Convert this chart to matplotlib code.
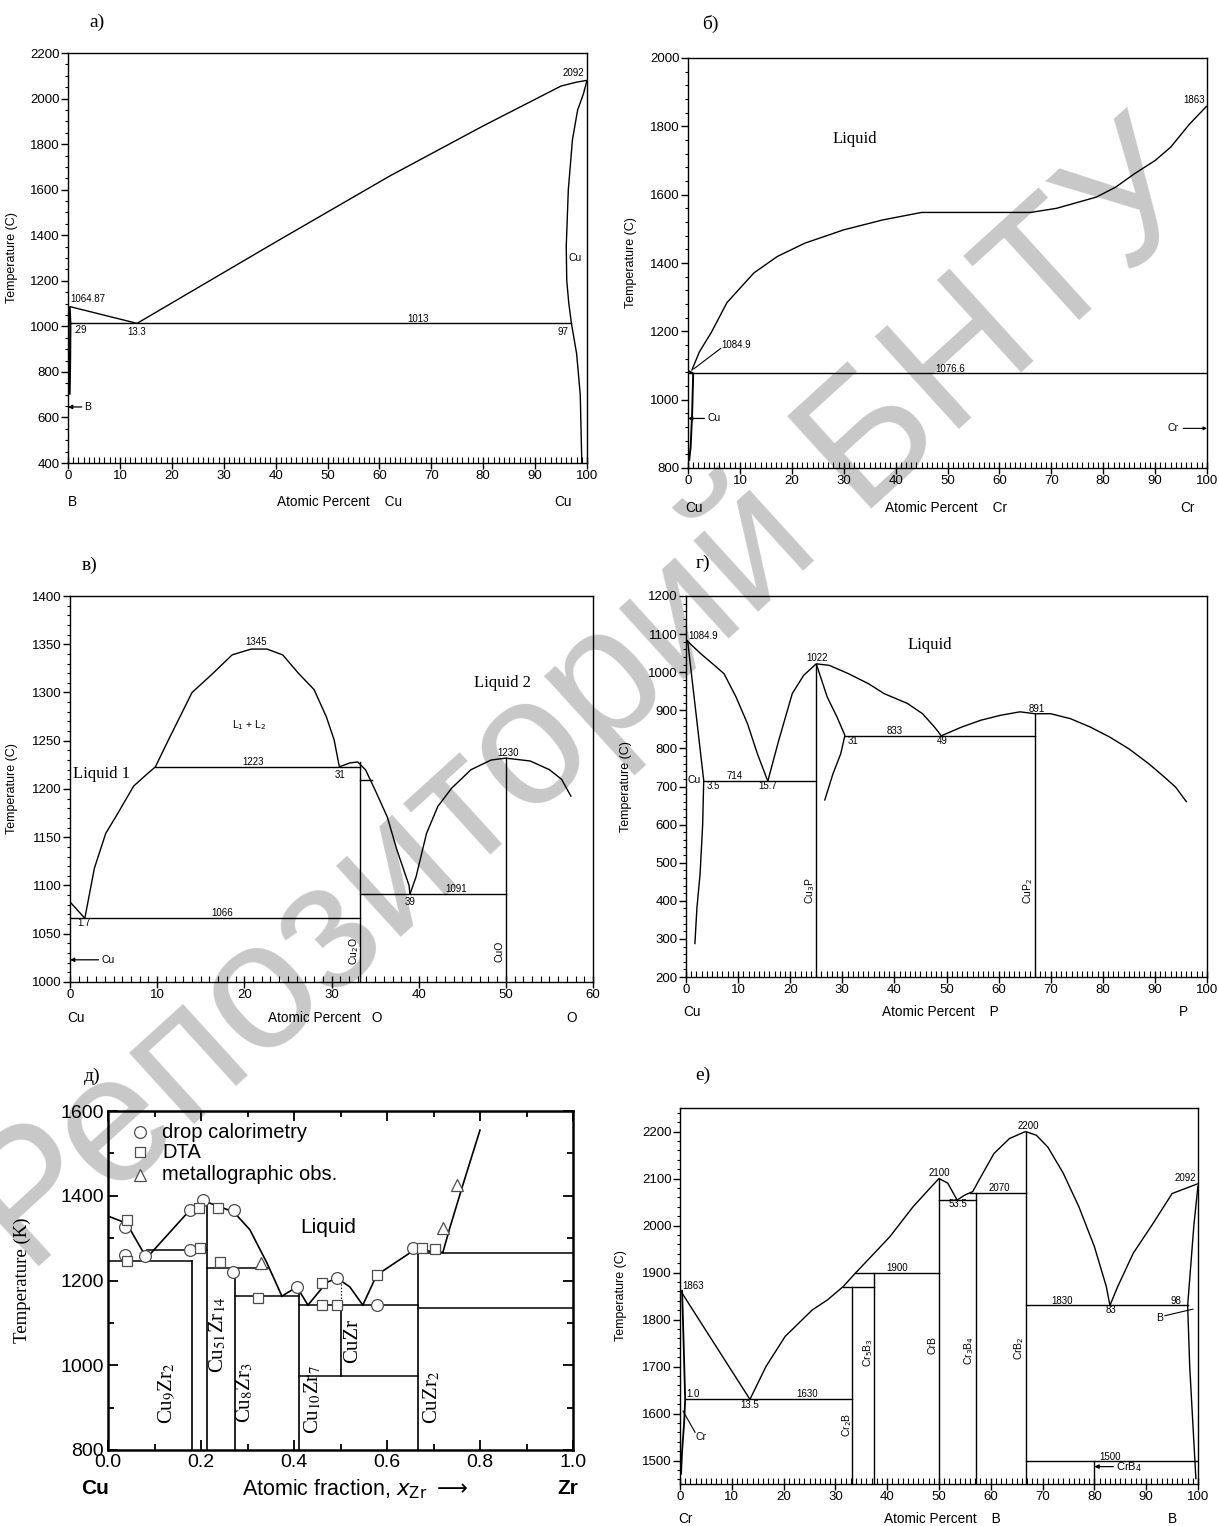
import matplotlib
matplotlib.use("Agg")
import matplotlib.pyplot as plt
from matplotlib.ticker import MultipleLocator

W, H = 1219, 1526
SANS = ["Liberation Sans", "DejaVu Sans"]
SERIF = ["Liberation Serif", "DejaVu Serif"]

# ---------------- а) B - Cu ----------------
A_LIQ_L_X = [0.3, 13.3]
A_LIQ_L_T = [1087, 1013]
A_LIQ_R_X = [13.3, 40, 62, 80, 95, 98, 100]
A_LIQ_R_T = [1013, 1370, 1660, 1880, 2055, 2072, 2080]
A_SOL_R_X = [100, 99.3, 98.2, 97.2, 96.4, 96.0, 96.1, 96.5, 97.0, 98.0, 98.7, 99.0]
A_SOL_R_T = [2080, 2020, 1950, 1820, 1600, 1350, 1200, 1100, 1013, 880, 700, 400]
A_SOL_L_X = [0.3, 0.45, 0.4, 0.3]
A_SOL_L_T = [1087, 1013, 850, 700]
A_EUT_X = [0.0, 97.0]
A_EUT_T = 1013

# ---------------- б) Cu - Cr ----------------
B_LIQ_X = [0.7, 2.2, 4.5, 7.5, 12.7, 17.2, 22.5, 30, 37.5, 45, 55, 66, 71, 78.7,
           82.4, 86, 90, 93, 96.6, 100]
B_LIQ_T = [1085, 1140, 1197, 1284, 1371, 1419, 1458, 1497, 1526, 1548, 1548, 1548,
           1560, 1593, 1622, 1661, 1700, 1739, 1806, 1860]
B_SOL_X = [0.0, 1.0, 0.8, 0.5, 0.2]
B_SOL_T = [1084.9, 1076.6, 960, 860, 820]
B_EUT_T = 1076.6

# ---------------- в) Cu - O ----------------
C_L1_X = [0.0, 1.7]
C_L1_T = [1083, 1066]
C_LIQ1_X = [1.7, 2.8, 4.1, 5.5, 7.3, 8.9, 9.8]
C_LIQ1_T = [1066, 1118, 1154, 1175, 1203, 1216, 1223]
C_DOME_X = [9.8, 11.3, 14.0, 16.3, 18.6, 20.8, 22.6, 24.4, 26.2, 28.0, 29.4, 30.3, 30.9]
C_DOME_T = [1223, 1251, 1300, 1319, 1339, 1345, 1345, 1339, 1320, 1303, 1275, 1251, 1223]
C_CU2O_X = [30.9, 32.1, 33.0, 33.9, 35.0, 36.4, 37.5, 38.9, 39.0]
C_CU2O_T = [1223, 1227, 1228, 1220, 1199, 1171, 1137, 1100, 1091]
C_CUO_X = [39.0, 39.7, 40.9, 42.2, 43.8, 46.0, 48.3, 50.0, 52.8, 55.0, 56.4, 57.5]
C_CUO_T = [1091, 1109, 1154, 1182, 1201, 1220, 1230, 1232, 1229, 1220, 1210, 1192]
C_MONO_T = 1223
C_EUT1_T = 1066
C_EUT2_T = 1091
C_CU2O_COMP = 33.3
C_CUO_COMP = 50.0

# ---------------- г) Cu - P ----------------
D_LIQ1_X = [0.0, 2.8, 5.8, 7.3, 9.6, 11.8, 13.7, 15.7]
D_LIQ1_T = [1084.9, 1049, 1014, 996, 935, 865, 786, 714]
D_SOLID_X = [0.3, 3.4, 3.2, 2.7, 2.1, 1.7]
D_SOLID_T = [1084, 716, 600, 470, 382, 286]
D_LIQ2_X = [15.7, 17.8, 20.4, 22.6, 25.0]
D_LIQ2_T = [714, 821, 944, 992, 1022]
D_CU3P_X = [25.0, 27.1, 29.0, 30.5, 29.7, 28.2, 26.6]
D_CU3P_T = [1022, 935, 882, 834, 786, 733, 663]
D_LIQ3_X = [25.0, 27.5, 31.2, 35.0, 38.0, 42.5, 45.4, 47.7, 49.0]
D_LIQ3_T = [1022, 1018, 996, 970, 944, 918, 891, 856, 833]
D_LIQ4_X = [49.0, 52.9, 56.6, 60.4, 64.1, 67.0, 70.0, 73.8, 77.6, 81.3, 85.0, 88.8,
            91.8, 94.0, 96.1]
D_LIQ4_T = [833, 856, 874, 887, 896, 891, 891, 878, 856, 830, 799, 760, 725, 698, 659]
D_EUT1_T = 714
D_EUT2_T = 833
D_CU3P_COMP = 25.0
D_CUP2_COMP = 67.0

# ---------------- д) Cu - Zr ----------------
E_LIQ_SEGS = [
    ([0.0, 0.04, 0.083], [1352, 1335, 1253]),
    ([0.083, 0.176, 0.205, 0.213], [1253, 1366, 1390, 1385]),
    ([0.213, 0.27, 0.305, 0.342, 0.374], [1385, 1362, 1320, 1241, 1163]),
    ([0.374, 0.406, 0.43], [1163, 1185, 1142]),
    ([0.43, 0.47, 0.492, 0.52, 0.548], [1142, 1195, 1206, 1185, 1142]),
    ([0.548, 0.578, 0.656, 0.667, 0.72], [1142, 1213, 1270, 1272, 1266]),
    ([0.72, 0.735, 0.763, 0.80], [1266, 1324, 1425, 1555]),
]
E_HLINES = [  # (x from, x to, T)
    (0.0, 0.18, 1245), (0.083, 0.213, 1272), (0.213, 0.345, 1230),
    (0.273, 0.41, 1163), (0.41, 0.667, 1143), (0.41, 0.667, 975),
    (0.667, 1.0, 1266), (0.667, 1.0, 1135),
]
E_VLINES = [  # (x, T from, T to)
    (0.18, 800, 1245), (0.213, 800, 1385), (0.273, 800, 1230),
    (0.41, 800, 1180), (0.5, 975, 1143), (0.667, 800, 1272),
]
E_CIRC_X = [0.037, 0.037, 0.08, 0.176, 0.205, 0.176, 0.27, 0.269, 0.406, 0.492, 0.578, 0.656]
E_CIRC_T = [1327, 1260, 1258, 1366, 1390, 1272, 1366, 1220, 1185, 1206, 1142, 1276]
E_SQR_X = [0.04, 0.04, 0.195, 0.198, 0.237, 0.241, 0.323, 0.46, 0.46, 0.492, 0.578, 0.675, 0.703]
E_SQR_T = [1343, 1245, 1371, 1277, 1371, 1244, 1159, 1142, 1195, 1142, 1213, 1276, 1275]
E_TRI_X = [0.33, 0.72, 0.75]
E_TRI_T = [1241, 1324, 1425]
E_PHASES = ["Cu$_9$Zr$_2$", "Cu$_{51}$Zr$_{14}$", "Cu$_8$Zr$_3$", "Cu$_{10}$Zr$_7$",
            "CuZr", "CuZr$_2$"]
E_PHASE_X = [0.127, 0.237, 0.295, 0.441, 0.525, 0.697]
E_PHASE_T = [935, 1071, 935, 920, 1058, 925]

# ---------------- е) Cr - B ----------------
F_LIQ1_X = [0.0, 13.5]
F_LIQ1_T = [1863, 1630]
F_LIQ2_X = [13.5, 16.6, 20.3, 25.5, 28.5, 31.5, 33.8, 37.5, 40.5, 45.0, 47.9, 50.0]
F_LIQ2_T = [1630, 1700, 1764, 1820, 1842, 1870, 1898, 1941, 1976, 2040, 2075, 2100]
F_LIQ3_X = [50.0, 51.7, 52.8, 53.5, 55.0, 56.5, 57.7, 60.6, 63.6, 66.7]
F_LIQ3_T = [2100, 2090, 2068, 2054, 2065, 2072, 2096, 2153, 2185, 2200]
F_LIQ4_X = [66.7, 68.8, 71.0, 74.0, 77.0, 80.0, 82.3, 83.0]
F_LIQ4_T = [2200, 2192, 2167, 2111, 2040, 1955, 1870, 1830]
F_LIQ5_X = [83.0, 84.5, 87.5, 91.3, 95.0, 100.0]
F_LIQ5_T = [1830, 1870, 1941, 2004, 2068, 2089]
F_BSOL_X = [100, 99.2, 98.5, 98.0, 98.4, 99.0, 99.6]
F_BSOL_T = [2085, 2000, 1900, 1830, 1700, 1580, 1460]
F_CRSOL_X = [0.4, 0.7, 1.0, 0.8, 0.4, 0.2]
F_CRSOL_T = [1863, 1750, 1630, 1580, 1520, 1470]
F_HLINES = [(1.0, 33.3, 1630), (31.5, 37.5, 1870), (33.8, 50.0, 1900),
            (50.0, 57.1, 2055), (56.0, 66.7, 2070), (66.7, 98.0, 1830),
            (66.7, 100.0, 1500)]
F_VLINES = [(33.3, 1450, 1870), (37.5, 1450, 1900), (50.0, 1450, 2100),
            (57.1, 1450, 2070), (66.7, 1450, 2200), (80.0, 1450, 1500)]

fig = plt.figure(figsize=(W / 100, H / 100), dpi=100)


def rect(x0, x1, y0, y1):
    return [x0 / W, 1 - y1 / H, (x1 - x0) / W, (y1 - y0) / H]


def asm_axes(r, xlim, ylim, xmaj, xmin, ymaj, ymin, ylabel_x):
    ax = fig.add_axes(r)
    ax.patch.set_alpha(0)
    ax.set_xlim(*xlim)
    ax.set_ylim(*ylim)
    ax.xaxis.set_major_locator(MultipleLocator(xmaj))
    ax.xaxis.set_minor_locator(MultipleLocator(xmin))
    ax.yaxis.set_major_locator(MultipleLocator(ymaj))
    ax.yaxis.set_minor_locator(MultipleLocator(ymin))
    for s in ax.spines.values():
        s.set_linewidth(1.0)
    ax.tick_params(axis="x", which="major", direction="inout", length=8, width=1.0,
                   labelsize=9.5, pad=1)
    ax.tick_params(axis="x", which="minor", direction="in", length=4, width=0.8)
    ax.tick_params(axis="y", which="major", direction="out", length=5, width=1.0,
                   labelsize=9.5, pad=1)
    ax.tick_params(axis="y", which="minor", direction="out", length=2.5, width=0.8)
    for lab_ in ax.get_xticklabels() + ax.get_yticklabels():
        lab_.set_family(SANS)
    ax.set_ylabel("Temperature (C)", fontsize=9, family=SANS)
    ax.yaxis.set_label_coords(ylabel_x, 0.5)
    return ax


def line(ax, x, y, lw=1.0, **kw):
    ax.plot(x, y, color="k", lw=lw, solid_capstyle="butt", **kw)


def hline(ax, x0, x1, t, lw=1.0):
    ax.plot([x0, x1], [t, t], color="k", lw=lw)


def vline(ax, x, t0, t1, lw=1.0):
    ax.plot([x, x], [t0, t1], color="k", lw=lw)


def lab(ax, x, y, s, size=7, ha="center", va="center", rot=0, fam=SANS):
    ax.text(x, y, s, fontsize=size, ha=ha, va=va, rotation=rot, family=fam,
            math_fontfamily="dejavusans")


def bottom(ax, x, s, dy, size=9.8, ha="center", **kw):
    ax.annotate(s, xy=(x, 0), xycoords=("data", "axes fraction"),
                xytext=(0, -dy), textcoords="offset pixels", ha=ha, va="center",
                fontsize=size, family=SANS, **kw)


def arrow_left(ax, x_tip, x_txt, y, s, size=7.5):
    ax.annotate(s, xy=(x_tip, y), xytext=(x_txt, y), ha="left", va="center",
                fontsize=size, family=SANS,
                arrowprops=dict(arrowstyle="-|>", lw=0.9, color="k",
                                mutation_scale=6, shrinkA=0, shrinkB=0))


# ---- а)
ax = asm_axes(rect(68, 587, 53, 463), (0, 100), (400, 2200), 10, 1, 200, 50, -0.096)
line(ax, A_LIQ_L_X, A_LIQ_L_T)
line(ax, A_LIQ_R_X, A_LIQ_R_T)
line(ax, A_SOL_R_X, A_SOL_R_T)
line(ax, A_SOL_L_X, A_SOL_L_T, lw=1.6)
hline(ax, A_EUT_X[0], A_EUT_X[1], A_EUT_T)
lab(ax, 0.4, 1118, "1064.87", ha="left")
lab(ax, 13.3, 975, "13.3")
lab(ax, 67.4, 1030, str(A_EUT_T))
lab(ax, 95.3, 975, "97")
lab(ax, 0.9, 982, ".29", ha="left")
lab(ax, 97.4, 2110, "2092")
lab(ax, 97.7, 1300, "Cu", size=7.5)
arrow_left(ax, 0, 3.2, 646, "B")
bottom(ax, 0.8, "B", 39)
bottom(ax, 52.4, "Atomic Percent    Cu", 39)
bottom(ax, 95.4, "Cu", 39)

# ---- б)
ax = asm_axes(rect(688, 1207, 58, 468), (0, 100), (800, 2000), 10, 1, 200, 40, -0.098)
line(ax, B_LIQ_X, B_LIQ_T)
line(ax, B_SOL_X, B_SOL_T, lw=1.4)
hline(ax, 0, 100, B_EUT_T)
ax.plot([1.1, 6.3], [1090, 1150], color="k", lw=0.8)
lab(ax, 6.4, 1160, "1084.9", ha="left")
lab(ax, 50.5, 1090, str(B_EUT_T))
lab(ax, 97.6, 1878, "1863")
lab(ax, 32.2, 1763, "Liquid", size=12, fam=SERIF)
arrow_left(ax, 0, 3.7, 945, "Cu")
ax.annotate("Cr", xy=(100, 916), xytext=(94.6, 916), ha="right", va="center",
            fontsize=7.5, family=SANS,
            arrowprops=dict(arrowstyle="-|>", lw=0.8, color="k", mutation_scale=5,
                            shrinkA=1, shrinkB=0))
bottom(ax, 1.2, "Cu", 40)
bottom(ax, 49.7, "Atomic Percent    Cr", 40)
bottom(ax, 96.3, "Cr", 40)

# ---- в)
ax = asm_axes(rect(70, 593, 596, 982), (0, 60), (1000, 1400), 10, 1, 50, 10, -0.099)
line(ax, C_L1_X, C_L1_T)
line(ax, C_LIQ1_X, C_LIQ1_T)
line(ax, C_DOME_X, C_DOME_T)
line(ax, C_CU2O_X, C_CU2O_T)
line(ax, C_CUO_X, C_CUO_T)
hline(ax, C_LIQ1_X[-1], C_CU2O_COMP, C_MONO_T)
hline(ax, 0, C_CU2O_COMP, C_EUT1_T)
hline(ax, C_CU2O_COMP, C_CUO_COMP, C_EUT2_T)
hline(ax, C_CU2O_COMP, 34.6, 1209)
vline(ax, C_CU2O_COMP, 1000, 1228)
vline(ax, C_CUO_COMP, 1000, 1232)
lab(ax, 21.3, 1352, "1345")
lab(ax, 20.5, 1266, "L$_1$ + L$_2$", size=7.5)
lab(ax, 21.0, 1228, str(C_MONO_T))
lab(ax, 31.0, 1214, "31")
lab(ax, 17.5, 1071, str(C_EUT1_T))
lab(ax, 1.6, 1061, "1.7")
lab(ax, 39.0, 1083, "39")
lab(ax, 44.3, 1096, str(C_EUT2_T))
lab(ax, 50.2, 1237, "1230")
lab(ax, 0.4, 1216, "Liquid 1", size=12, ha="left", fam=SERIF)
lab(ax, 49.6, 1310, "Liquid 2", size=12, fam=SERIF)
lab(ax, 32.6, 1032, "Cu$_2$O", size=7.5, rot=90)
lab(ax, 49.3, 1032, "CuO", size=7.5, rot=90)
arrow_left(ax, 0, 3.6, 1023, "Cu")
bottom(ax, 0.7, "Cu", 36)
bottom(ax, 29.3, "Atomic Percent   O", 36)
bottom(ax, 57.5, "O", 36)

# ---- г)
ax = asm_axes(rect(686, 1207, 596, 977), (0, 100), (200, 1200), 10, 1, 100, 20, -0.104)
line(ax, D_LIQ1_X, D_LIQ1_T)
line(ax, D_SOLID_X, D_SOLID_T)
line(ax, D_LIQ2_X, D_LIQ2_T)
line(ax, D_CU3P_X, D_CU3P_T)
line(ax, D_LIQ3_X, D_LIQ3_T)
line(ax, D_LIQ4_X, D_LIQ4_T)
hline(ax, 3.4, D_CU3P_COMP, D_EUT1_T)
hline(ax, 30.5, D_CUP2_COMP, D_EUT2_T)
vline(ax, D_CU3P_COMP, 200, 1022)
vline(ax, D_CUP2_COMP, 200, 891)
lab(ax, 0.5, 1095, "1084.9", ha="left")
lab(ax, 46.8, 1071, "Liquid", size=12, fam=SERIF)
lab(ax, 25.2, 1036, "1022")
lab(ax, 67.3, 903, "891")
lab(ax, 40.0, 846, str(D_EUT2_T))
lab(ax, 32.0, 820, "31")
lab(ax, 49.2, 820, "49")
lab(ax, 9.3, 728, str(D_EUT1_T))
lab(ax, 0.2, 718, "Cu", size=7.5, ha="left")
lab(ax, 5.2, 702, "3.5")
lab(ax, 15.6, 702, "15.7")
lab(ax, 23.8, 426, "Cu$_3$P", size=7.5, rot=90)
lab(ax, 65.6, 426, "CuP$_2$", size=7.5, rot=90)
bottom(ax, 1.2, "Cu", 35)
bottom(ax, 48.8, "Atomic Percent    P", 35)
bottom(ax, 95.4, "P", 35)

# ---- е)
ax = asm_axes(rect(680, 1198, 1108, 1484), (0, 100), (1450, 2250), 10, 1, 100, 20, -0.102)
line(ax, F_LIQ1_X, F_LIQ1_T)
line(ax, F_LIQ2_X, F_LIQ2_T)
line(ax, F_LIQ3_X, F_LIQ3_T)
line(ax, F_LIQ4_X, F_LIQ4_T)
line(ax, F_LIQ5_X, F_LIQ5_T)
line(ax, F_BSOL_X, F_BSOL_T)
line(ax, F_CRSOL_X, F_CRSOL_T, lw=1.3)
for x0, x1, t in F_HLINES:
    hline(ax, x0, x1, t)
for x, t0, t1 in F_VLINES:
    vline(ax, x, t0, t1)
ax.plot([0.6, 2.9], [1605, 1560], color="k", lw=0.8)
ax.plot([93.6, 99.0], [1808, 1822], color="k", lw=0.8)
lab(ax, 0.4, 1872, "1863", ha="left")
lab(ax, 1.3, 1641, "1.0", ha="left")
lab(ax, 13.5, 1619, "13.5")
lab(ax, 24.5, 1641, "1630")
lab(ax, 3.0, 1551, "Cr", size=7.5, ha="left")
lab(ax, 32.2, 1575, "Cr$_2$B", size=7.5, rot=90)
lab(ax, 36.4, 1730, "Cr$_5$B$_3$", size=7.5, rot=90)
lab(ax, 42.0, 1910, "1900")
lab(ax, 48.8, 1745, "CrB", size=7.5, rot=90)
lab(ax, 50.0, 2111, "2100")
lab(ax, 53.6, 2045, "53.5")
lab(ax, 55.9, 1735, "Cr$_3$B$_4$", size=7.5, rot=90)
lab(ax, 61.6, 2080, "2070")
lab(ax, 65.5, 1740, "CrB$_2$", size=7.5, rot=90)
lab(ax, 67.2, 2211, "2200")
lab(ax, 73.8, 1839, "1830")
lab(ax, 83.2, 1820, "83")
lab(ax, 95.8, 1840, "98")
lab(ax, 97.6, 2101, "2092")
lab(ax, 93.3, 1804, "B", size=7.5, ha="right")
lab(ax, 83.0, 1508, "1500")
arrow_left(ax, 80, 84.2, 1487, "CrB$_4$", size=8)
bottom(ax, 1.0, "Cr", 35)
bottom(ax, 50.6, "Atomic Percent    B", 35)
bottom(ax, 95.0, "B", 35)

# ---- д)
ax = fig.add_axes(rect(108, 573, 1111, 1450))
ax.patch.set_alpha(0)
ax.set_xlim(0, 1)
ax.set_ylim(800, 1600)
ax.xaxis.set_major_locator(MultipleLocator(0.2))
ax.xaxis.set_minor_locator(MultipleLocator(0.1))
ax.yaxis.set_major_locator(MultipleLocator(200))
ax.yaxis.set_minor_locator(MultipleLocator(100))
for s in ax.spines.values():
    s.set_linewidth(1.8)
ax.tick_params(which="both", direction="in", top=True, right=True, width=1.3)
ax.tick_params(which="major", length=7, labelsize=14, pad=3)
ax.tick_params(which="minor", length=4)
ax.set_xticks([0, 0.2, 0.4, 0.6, 0.8, 1.0])
ax.set_xticklabels(["0.0", "0.2", "0.4", "0.6", "0.8", "1.0"], family=SANS)
for t in ax.get_yticklabels():
    t.set_family(SANS)
ax.set_ylabel("Temperature (K)", fontsize=13.5, family=SERIF)
ax.yaxis.set_label_coords(-0.165, 0.5)
for xs, ts in E_LIQ_SEGS:
    ax.plot(xs, ts, color="k", lw=1.2)
for x0, x1, t in E_HLINES:
    ax.plot([x0, x1], [t, t], color="k", lw=1.1)
for x, t0, t1 in E_VLINES:
    ax.plot([x, x], [t0, t1], color="k", lw=1.2)
ax.plot([0.5, 0.5], [1143, 1206], color="k", lw=0.9, ls=":")
mk = dict(ls="none", mfc="white", mec="0.3", mew=0.9, ms=8.5, zorder=4)
ax.plot(E_CIRC_X, E_CIRC_T, marker="o", **mk)
ax.plot(E_SQR_X, E_SQR_T, marker="s", **dict(mk, ms=7.5))
ax.plot(E_TRI_X, E_TRI_T, marker="^", **mk)
# legend entries
ax.plot([0.069], [1550], marker="o", **mk)
ax.plot([0.069], [1503], marker="s", **dict(mk, ms=7.5))
ax.plot([0.069], [1450], marker="^", **mk)
for t, s in zip([1550, 1503, 1450], ["drop calorimetry", "DTA", "metallographic obs."]):
    ax.text(0.116, t, s, fontsize=14.5, family=SANS, va="center", ha="left")
ax.text(0.474, 1326, "Liquid", fontsize=15, family=SANS, ha="center", va="center")
for s, x, t in zip(E_PHASES, E_PHASE_X, E_PHASE_T):
    ax.text(x, t, s, fontsize=15, family=SERIF, math_fontfamily="stix",
            rotation=90, ha="center", va="center")
bottom(ax, -0.028, "Cu", 39, size=15, fontweight="bold")
bottom(ax, 0.989, "Zr", 39, size=15, fontweight="bold")
bottom(ax, 0.53, r"Atomic fraction, $x_{\rm Zr}$ $\longrightarrow$", 39, size=15.5)

# panel letters
for s, px, py in [("а)", 97, 22), ("б)", 710, 24), ("в)", 90, 565),
                  ("г)", 703, 563), ("д)", 92, 1076), ("е)", 703, 1075)]:
    fig.text(px / W, 1 - py / H, s, fontsize=14, family=SERIF, ha="center", va="center")

# repository watermark behind the diagrams
fig.text(0.4815, 0.54, "Репозиторий БНТУ", fontsize=130, family=SANS, color="#c8c8c8",
         rotation=42.3, ha="center", va="center", zorder=-1)

fig.savefig("out.png", dpi=100, facecolor="white")
